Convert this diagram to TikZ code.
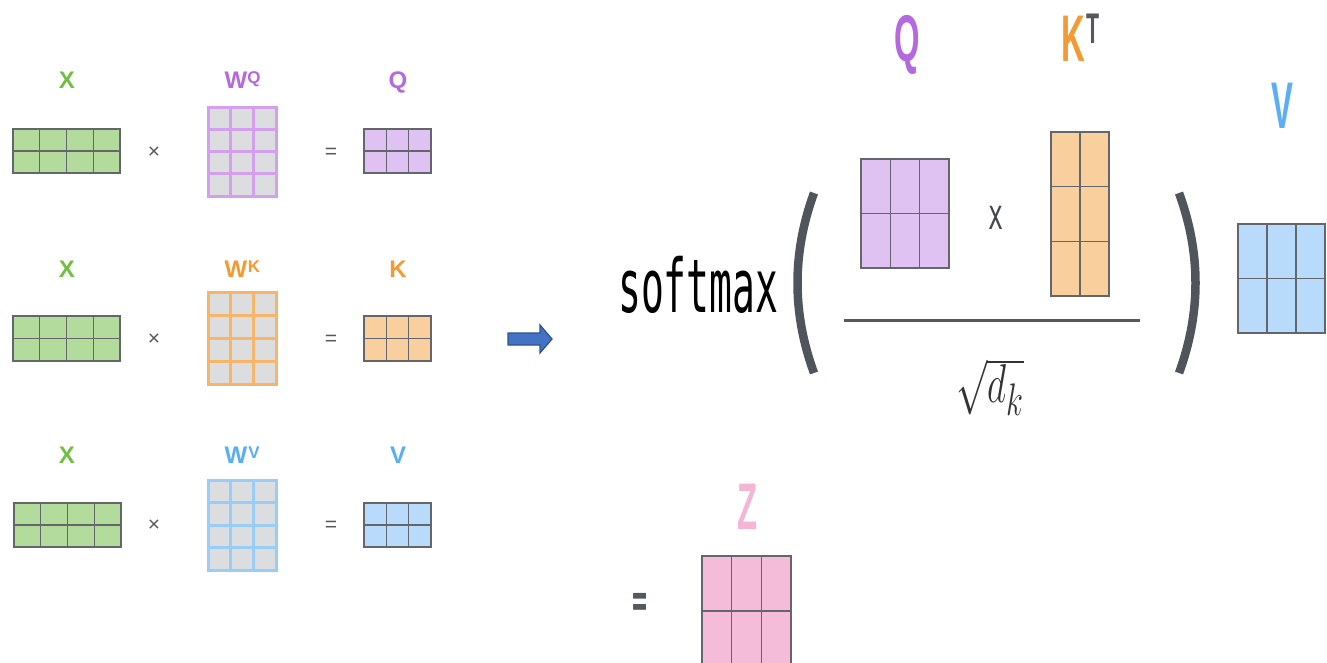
\documentclass[tikz,border=0pt]{standalone}
\usepackage{fontspec}
\setsansfont{Liberation Sans}
\newfontfamily\monof{DejaVu Sans Mono}
\definecolor{gfill}{HTML}{B3DC9C}
\definecolor{glbl}{HTML}{72BF44}
\definecolor{pfill}{HTML}{DFC2F2}
\definecolor{plbl}{HTML}{B469E0}
\definecolor{pbord}{HTML}{D49FEF}
\definecolor{ofill}{HTML}{F9CF9E}
\definecolor{olbl}{HTML}{F39A32}
\definecolor{obord}{HTML}{F7B56A}
\definecolor{bfill}{HTML}{B8DAFB}
\definecolor{blbl}{HTML}{5AAEF5}
\definecolor{bbord}{HTML}{9ACCF8}
\definecolor{zfill}{HTML}{F5BCD9}
\definecolor{zlbl}{HTML}{F4B6D4}
\definecolor{wfill}{HTML}{DCDDDF}
\definecolor{gline}{HTML}{63666A}
\definecolor{paren}{HTML}{50555C}
\definecolor{opgray}{HTML}{55595E}
\definecolor{arrfill}{HTML}{4472C4}
\definecolor{arrdraw}{HTML}{2F528F}
\newcommand\mgrid[9]{%
  \fill[#8] (#2,#3) rectangle (#4,#5);
  \foreach \i in {1,...,#6}{\ifnum\i<#6 \draw[#9] ({#2+(#4-#2)*\i/#6},#3) -- ({#2+(#4-#2)*\i/#6},#5);\fi}
  \foreach \j in {1,...,#7}{\ifnum\j<#7 \draw[#9] (#2,{#3+(#5-#3)*\j/#7}) -- (#4,{#3+(#5-#3)*\j/#7});\fi}
  \draw[#9] (#2,#3) rectangle (#4,#5);
  \coordinate (#1) at ({(#2+#4)/2},{(#3+#5)/2});
}
\tikzset{
  outg/.style={draw=gline, line width=1.2},
  rgl/.style={draw=gline, line width=1.6},
  lbl/.style={font=\sffamily\bfseries\fontsize{24}{24}\selectfont, inner sep=0, anchor=base},
  sup/.style={font=\sffamily\bfseries\fontsize{17}{17}\selectfont, inner sep=0, anchor=base},
  big/.style={font=\sffamily\bfseries\fontsize{40}{40}\selectfont, inner sep=0, anchor=base, xscale=0.82, yscale=1.65, transform shape},
  op/.style={font=\sffamily\fontsize{21}{21}\selectfont, text=opgray, inner sep=0},
}
\begin{document}
\begin{tikzpicture}[x=1pt,y=-1pt]
\useasboundingbox (0,0) rectangle (1327,662);
\fill[white] (0,0) rectangle (1327,662);
% ---------- left: three projections ----------
% row 1
\node[lbl, text=glbl] (lx1) at (67,88) {X};
\node[lbl, text=plbl] (lw1) at (236,88) {W};
\node[sup, text=plbl] (lw1s) at (254,83) {Q};
\node[lbl, text=plbl] (lq) at (398,88) {Q};
\mgrid{gx1}{13}{129}{120}{173}{4}{2}{gfill}{outg}
\node[op] (t1) at (154,153) {×};
\mgrid{gwq}{208}{107}{276}{196}{3}{4}{wfill}{draw=pbord,line width=3}
\node[op] (e1) at (331,153) {=};
\mgrid{gq}{364}{129}{431}{173}{3}{2}{pfill}{outg}
% row 2
\node[lbl, text=glbl] (lx2) at (67,277) {X};
\node[lbl, text=olbl] (lw2) at (236,277) {W};
\node[sup, text=olbl] (lw2s) at (254,272) {K};
\node[lbl, text=olbl] (lk) at (398,277) {K};
\mgrid{gx2}{13}{316}{120}{361}{4}{2}{gfill}{outg}
\node[op] (t2) at (154,340) {×};
\mgrid{gwk}{208}{292}{276}{384}{3}{4}{wfill}{draw=obord,line width=3}
\node[op] (e2) at (331,340) {=};
\mgrid{gk}{364}{316}{431}{361}{3}{2}{ofill}{outg}
% row 3
\node[lbl, text=glbl] (lx3) at (67,463) {X};
\node[lbl, text=blbl] (lw3) at (236,463) {W};
\node[sup, text=blbl] (lw3s) at (254,458) {V};
\node[lbl, text=blbl] (lv) at (398,463) {V};
\mgrid{gx3}{14}{503}{121}{547}{4}{2}{gfill}{outg}
\node[op] (t3) at (154,526) {×};
\mgrid{gwv}{208}{480}{276}{570}{3}{4}{wfill}{draw=bbord,line width=3}
\node[op] (e3) at (331,526) {=};
\mgrid{gv}{364}{503}{431}{547}{3}{2}{bfill}{outg}
% ---------- arrow ----------
\draw[fill=arrfill, draw=arrdraw, line width=1.2, line join=miter]
  (508,333) -- (540,333) -- (540,325) -- (552,339) -- (540,353) -- (540,345) -- (508,345) -- cycle;
% ---------- right: attention formula ----------
\node[big, text=plbl] (rq) at (907,61) {Q};
\node[big, text=olbl] (rk) at (1073,61) {K};
\node[font=\sffamily\bfseries\fontsize{26}{26}\selectfont, inner sep=0, anchor=base, xscale=0.82, yscale=1.65, transform shape, text=opgray] (rt) at (1093,43) {T};
\node[big, text=blbl] (rv) at (1282,128) {V};
\node[font=\monof\fontsize{38}{38}\selectfont, inner sep=0, anchor=base west, yscale=1.95, transform shape] (soft) at (618,312) {softmax};
\draw[paren, line width=8.5] (814,193) .. controls (792,253) and (792,313) .. (814,373);
\draw[paren, line width=8.5] (1179,193) .. controls (1201,253) and (1201,313) .. (1179,373);
\mgrid{gqr}{861}{159}{949}{268}{3}{2}{pfill}{rgl}
\node[font=\monof\fontsize{25}{25}\selectfont, inner sep=0, yscale=1.7, transform shape, text=opgray!80!black] (rx) at (996,218) {x};
\mgrid{gkt}{1051}{132}{1109}{296}{2}{3}{ofill}{rgl}
\draw[opgray, line width=3] (844,320) -- (1140,320);
\node[font=\Huge, inner sep=0, xscale=1.5, yscale=2.2, transform shape, text=black!80] (sq) at (990,387) {$\sqrt{d_k}$};
\mgrid{gvr}{1238}{224}{1325}{333}{3}{2}{bfill}{rgl}
% ---------- result Z ----------
\node[big, text=zlbl] (rz) at (748,529) {Z};
\node[font=\monof\bfseries\fontsize{25}{25}\selectfont, inner sep=0, yscale=2, transform shape, text=opgray] (req) at (640,605) {=};
\mgrid{gz}{702}{556}{791}{666}{3}{2}{zfill}{rgl}
\end{tikzpicture}
\end{document}
